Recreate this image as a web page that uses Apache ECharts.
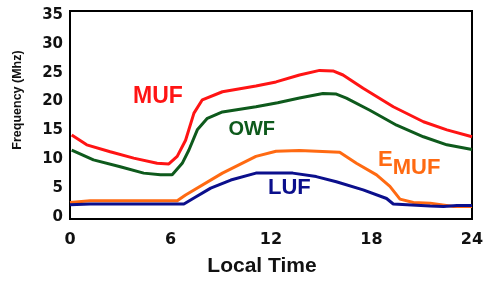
<!DOCTYPE html>
<html>
<head>
<meta charset="utf-8">
<script src="https://cdn.jsdelivr.net/npm/echarts@6/dist/echarts.min.js"></script>
<style>html,body{margin:0;padding:0;background:#fff;}#c{width:498px;height:282px;}</style>
</head>
<body>
<div id="c"></div>
<script>
// ---- data ----
var xTicks = [0, 6, 12, 18, 24];
var yTicks = [0, 5, 10, 15, 20, 25, 30, 35];

var mufHours  = [0.1, 1.0, 2.4, 3.8, 5.2, 5.9, 6.4, 6.9, 7.4, 7.9, 9.1, 11.1, 12.3, 13.7, 14.9, 15.7, 16.3, 17.5, 19.3, 21.1, 22.5, 24];
var mufValues = [14.2, 12.5, 11.3, 10.2, 9.3, 9.2, 10.5, 13.3, 18.0, 20.3, 21.7, 22.7, 23.4, 24.6, 25.4, 25.3, 24.6, 22.3, 19.1, 16.5, 15.1, 13.9];

var owfHours  = [0.1, 1.4, 3.0, 4.4, 5.4, 6.1, 6.7, 7.1, 7.6, 8.2, 9.1, 11.1, 12.4, 13.7, 15.1, 15.9, 16.5, 17.9, 19.5, 21.1, 22.5, 24];
var owfValues = [11.6, 9.9, 8.7, 7.6, 7.3, 7.3, 9.3, 11.6, 15.1, 17.1, 18.2, 19.1, 19.8, 20.6, 21.4, 21.3, 20.6, 18.5, 15.9, 13.9, 12.5, 11.7];

var emufHours  = [0, 1.2, 6.4, 6.9, 9.1, 11.1, 12.3, 13.7, 16.1, 17.1, 18.3, 19.1, 19.7, 20.5, 21.5, 22.9, 24];
var emufValues = [2.5, 2.8, 2.8, 3.8, 7.6, 10.5, 11.4, 11.5, 11.2, 9.3, 7.3, 5.3, 3.1, 2.5, 2.4, 1.8, 1.8];

var lufHours  = [0, 1.2, 6.8, 7.4, 8.4, 9.6, 11.1, 13.3, 14.7, 15.9, 17.5, 18.9, 19.3, 21.5, 22.3, 23.1, 24];
var lufValues = [2.1, 2.25, 2.25, 3.3, 5.0, 6.4, 7.6, 7.6, 7.0, 6.1, 4.7, 3.2, 2.25, 1.9, 1.8, 2.0, 2.0];

// label anchor positions in data space [hour, MHz]
var mufLabelAt  = [5.25, 20.8];
var owfLabelAt  = [10.85, 15.2];
var lufLabelAt  = [13.1, 5.1];
var emufLabelAt = [20.25, 9.2];

function pairs(h, v) { return h.map(function (x, i) { return [x, v[i]]; }); }

var C_MUF = '#ff1414', C_OWF = '#0e5a1c', C_EMUF = '#ff6a12', C_LUF = '#0b0f8c';

function lbl(coord, text, color, size, rich) {
  return {
    symbol: 'circle', symbolSize: 0, silent: true,
    data: [{ coord: coord, value: text }],
    label: {
      show: true, position: 'inside', formatter: text,
      color: color, fontFamily: 'Liberation Sans', fontWeight: 'bold', fontSize: size,
      rich: rich
    }
  };
}

function line(name, h, v, color, mp) {
  return {
    name: name, type: 'line', data: pairs(h, v), showSymbol: false, smooth: false,
    lineStyle: { color: color, width: 3 }, itemStyle: { color: color },
    z: 3, markPoint: mp
  };
}

var chart = echarts.init(document.getElementById('c'), null, { renderer: 'canvas' });
chart.setOption({
  animation: false,
  backgroundColor: '#fff',
  grid: { left: 70, right: 26, top: 11, bottom: 63, show: true, borderColor: '#000', borderWidth: 2, backgroundColor: 'transparent' },
  xAxis: {
    type: 'value', min: 0, max: 24, interval: 6,
    name: 'Local Time', nameLocation: 'middle', nameGap: 37,
    nameTextStyle: { fontFamily: 'Liberation Sans', fontWeight: 'bold', fontSize: 21, color: '#111', padding: [0, 18, 0, 0] },
    axisLine: { show: false }, axisTick: { show: false }, splitLine: { show: false },
    axisLabel: { customValues: xTicks, fontFamily: 'DejaVu Sans', fontWeight: 'bold', fontSize: 16, color: '#111', margin: 13 }
  },
  yAxis: {
    type: 'value', min: -0.35, max: 35.69,
    name: 'Frequency (Mhz)', nameLocation: 'middle', nameGap: 46,
    nameTextStyle: { fontFamily: 'Liberation Sans', fontWeight: 'bold', fontSize: 12.5, color: '#111', padding: [0, 0, 0, 30] },
    axisLine: { show: false }, axisTick: { show: false }, splitLine: { show: false },
    axisLabel: { customValues: yTicks, fontFamily: 'DejaVu Sans', fontWeight: 'bold', fontSize: 15, color: '#111', margin: 7 }
  },
  series: [
    line('MUF', mufHours, mufValues, C_MUF, lbl(mufLabelAt, 'MUF', C_MUF, 23)),
    line('OWF', owfHours, owfValues, C_OWF, lbl(owfLabelAt, 'OWF', C_OWF, 20)),
    line('EMUF', emufHours, emufValues, C_EMUF, lbl(emufLabelAt, '{e|E}{s|MUF}', C_EMUF, 22, {
      e: { color: C_EMUF, fontFamily: 'Liberation Sans', fontWeight: 'bold', fontSize: 22, padding: [0, 0, 8, 0] },
      s: { color: C_EMUF, fontFamily: 'Liberation Sans', fontWeight: 'bold', fontSize: 22, padding: [8, 0, 0, 0] }
    })),
    line('LUF', lufHours, lufValues, C_LUF, lbl(lufLabelAt, 'LUF', C_LUF, 22))
  ]
});
</script>
</body>
</html>
